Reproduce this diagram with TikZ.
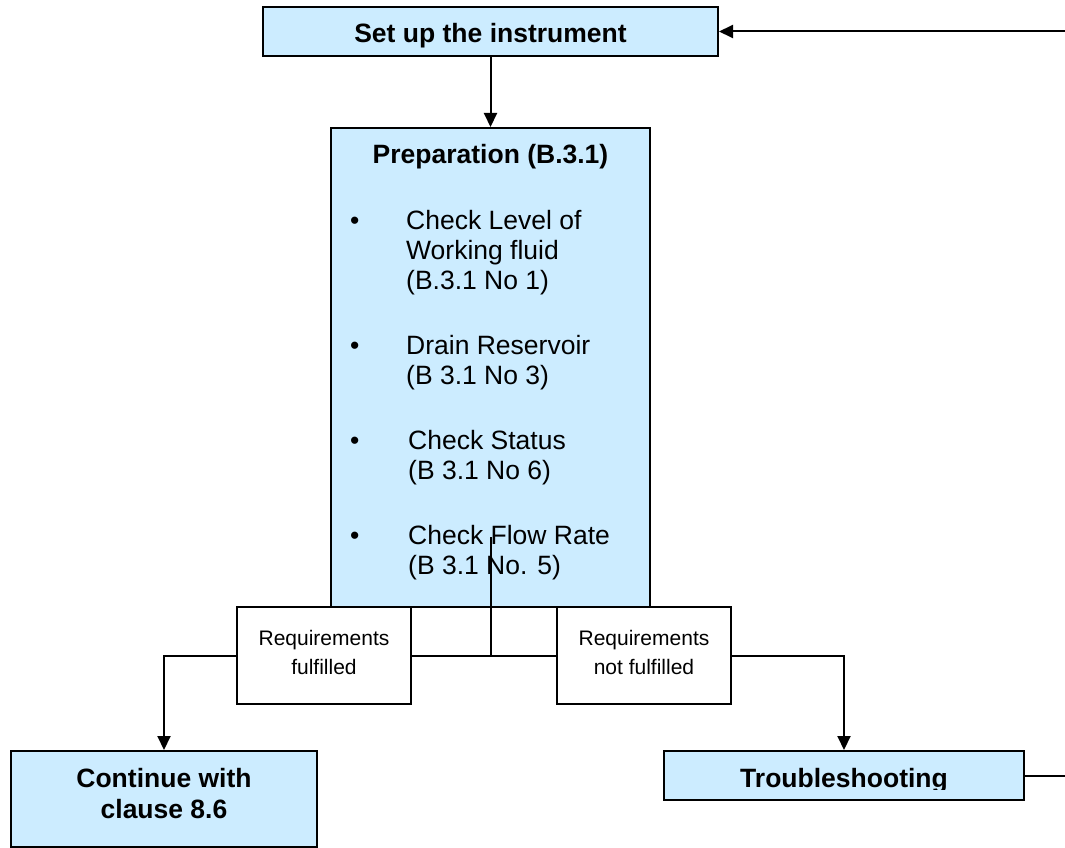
\documentclass[tikz,border=0pt]{standalone}
\usepackage{fontspec}
\setmainfont{Liberation Sans}
\usetikzlibrary{arrows.meta}
\definecolor{boxblue}{HTML}{CCECFF}
\begin{document}
\begin{tikzpicture}[x=1pt,y=-1pt,
  bluebox/.style={draw=black, line width=2pt, fill=boxblue, inner sep=0pt},
  reqbox/.style={draw=black, line width=1.6pt, fill=white, inner sep=0pt, minimum width=174pt, minimum height=97pt},
  bigtext/.style={font=\fontsize{26.5}{31}\selectfont\bfseries, inner sep=0pt},
  bodytext/.style={font=\fontsize{26.5}{30}\selectfont, inner sep=0pt, anchor=base west},
  smalltext/.style={font=\fontsize{21}{29.5}\selectfont, inner sep=0pt, align=center},
  conn/.style={line width=2pt},
  arrow/.style={conn, -{Triangle[width=13pt,length=14pt]}}]
\useasboundingbox (0,0) rectangle (1065,848);

% boxes
\node[bluebox, minimum width=455pt, minimum height=49pt] (setup) at (490.5,31.5) {};
\node[bigtext, anchor=base] (setuptext) at (490.5,43) {Set up the instrument};

\node[bluebox, minimum width=319pt, minimum height=479pt] (prep) at (490.5,367.5) {};
\node[bigtext, anchor=base] (preptitle) at (490.5,163) {Preparation (B.3.1)};

\node[bodytext] (b1) at (350,229) {•};
\node[bodytext] (l1a) at (406,229) {Check Level of};
\node[bodytext] (l1b) at (406,259) {Working fluid};
\node[bodytext] (l1c) at (406,289) {(B.3.1 No 1)};
\node[bodytext] (b2) at (350,354) {•};
\node[bodytext] (l2a) at (406,354) {Drain Reservoir};
\node[bodytext] (l2b) at (406,384) {(B 3.1 No 3)};
\node[bodytext] (b3) at (350,449) {•};
\node[bodytext] (l3a) at (408,449) {Check Status};
\node[bodytext] (l3b) at (408,479) {(B 3.1 No 6)};
\node[bodytext] (b4) at (350,544) {•};
\node[bodytext] (l4a) at (408,544) {Check Flow Rate};
\node[bodytext] (l4b) at (408,574) {(B 3.1 No. 5)};

\node[reqbox] (reqf) at (324,655.5) {};
\node[smalltext] (reqftext) at (324,652.5) {Requirements\\fulfilled};
\node[reqbox] (reqn) at (644,655.5) {};
\node[smalltext] (reqntext) at (644,652.5) {Requirements\\not fulfilled};

\node[bluebox, minimum width=306pt, minimum height=96pt] (cont) at (164,799) {};
\node[bigtext, align=center] (conttext) at (164,793.5) {Continue with\\clause 8.6};

\node[bluebox, minimum width=360pt, minimum height=49pt] (trouble) at (844,775.5) {};
\begin{scope}
  \clip (664,751) rectangle (1024,789);
  \node[bigtext, anchor=base] (troubletext) at (844,787) {Troubleshooting};
\end{scope}

% connectors
\coordinate (rin) at (1065,31.5);
\coordinate (rout) at (1065,775.5);
\coordinate (jtop) at (490.5,537);
\coordinate (junction) at (490.5,655.5);

\draw[arrow] (rin) -- (setup.east);
\draw[arrow] (setup.south) -- (prep.north);
\draw[conn] (jtop) -- (junction);
\draw[conn] (reqf.east) -- (reqn.west);
\draw[arrow] (reqf.west) -| (cont.north);
\draw[arrow] (reqn.east) -| (trouble.north);
\draw[conn] (trouble.east) -- (rout);
\end{tikzpicture}
\end{document}
